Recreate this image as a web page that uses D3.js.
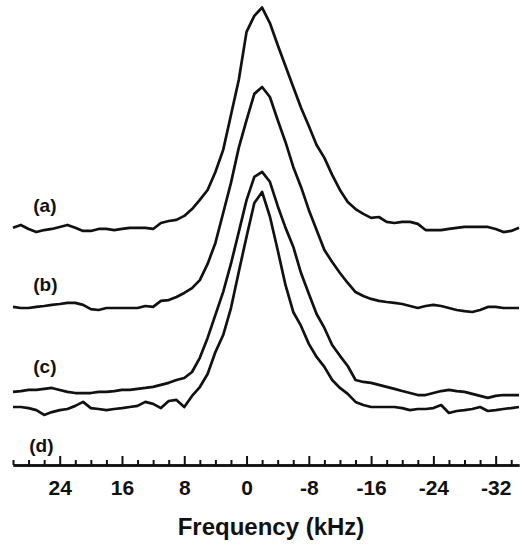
<!DOCTYPE html>
<html>
<head>
<meta charset="utf-8">
<script src="https://cdn.jsdelivr.net/npm/d3@7"></script>
<style>
  body { margin: 0; background: #fff; }
  svg { display: block; }
  text { font-family: "Liberation Sans", Arial, sans-serif; font-weight: bold; fill: #111; }
</style>
</head>
<body>
<div id="graph1"></div>
<script>
// frequency grid (kHz), 1 kHz steps
const freq = [30, 29, 28, 27, 26, 25, 24, 23, 22, 21, 20,
              19, 18, 17, 16, 15, 14, 13, 12, 11, 10, 9,
              8, 7, 6, 5, 4, 3, 2, 1, 0, -1, -2,
              -3, -4, -5, -6, -7, -8, -9, -10, -11, -12, -13,
              -14, -15, -16, -17, -18, -19, -20, -21, -22, -23, -24,
              -25, -26, -27, -28, -29, -30, -31, -32, -33, -34, -35];

// normalised intensity (peak = 100) for each spectrum
const specA = [0.5, 1.8, 0, -1.4, -0.5, 0, 0.9, 1.8, 0.5, -0.9, -0.9,
               0, 0, -0.5, 0, 0.5, 0.5, 0.5, 0, 2.7, 3.6, 4.1,
               5.9, 9.0, 13.1, 17.6, 25.7, 35.7, 51.5, 67.3, 89.0, 96.2, 100,
               93.0, 83.1, 73.6, 64.1, 54.7, 46.5, 37.9, 32.1, 24.4, 17.6, 12.2,
               9.0, 6.8, 5.0, 5.4, 3.2, 2.7, 3.2, 3.2, 2.3, -0.5, -0.5,
               -0.5, 0, 0.5, 0.9, 0.9, 0.9, 0.9, 0, -1.4, -0.9, 0.5];
const specB = [0.5, 0, 0, 0.5, 0.9, 1.4, 1.8, 2.3, 2.3, 1.4, -0.5,
               -0.9, 0, 0, 0, 0, 0, 0.9, 0.5, 3.2, 3.6, 5.0,
               6.8, 9.0, 12.6, 19.9, 29.4, 42.9, 56.5, 72.3, 84.9, 96.7, 99.8,
               95.3, 84.9, 75.0, 63.7, 54.7, 44.3, 35.2, 26.2, 20.8, 15.8, 11.3,
               7.2, 5.4, 4.1, 3.2, 2.7, 2.3, 1.8, 0.9, 0, 0.9, 1.4,
               0.9, 0, -0.9, -1.4, -1.8, -0.9, 0.5, 0.5, 0, 0, 0];
const specC = [-0.9, -0.5, 0, 0, 0.5, 0.9, 0, -0.9, -1.4, -1.4, -1.4,
               -0.9, -0.9, -0.5, 0, 0, 0.5, 0.9, 1.4, 2.3, 3.2, 4.5,
               5.4, 8.1, 14.5, 23.5, 33.9, 44.3, 57.0, 71.3, 85.7, 96.2, 98.5,
               94.0, 83.1, 73.3, 64.7, 52.8, 43.4, 34.3, 28.0, 20.3, 15.4, 10.8,
               4.5, 3.6, 3.2, 2.3, 1.4, 0.5, -0.5, -1.4, -2.3, -2.3, -1.4,
               -0.5, 0, -0.5, -0.9, -1.8, -2.7, -3.6, -2.7, -2.3, -2.3, -2.3];
const specD = [0, 0, -0.5, -1.4, -3.6, -2.3, -1.4, -0.9, 0.5, 2.3, -0.5,
               -0.9, -1.4, -0.9, -0.5, 0, 0.5, 2.3, 1.4, -0.5, 2.7, 3.2,
               0, 5.0, 9.0, 14.9, 24.8, 32.5, 44.7, 61.0, 76.9, 92.1, 97.1,
               86.0, 70.9, 55.1, 42.9, 36.6, 28.5, 22.6, 18.1, 12.2, 8.6, 5.9,
               2.3, 0.9, 0, 0, 0, 0, -0.5, -1.4, -0.9, -0.9, -0.5,
               0.9, -2.7, -1.8, -1.4, -0.9, 0, -1.8, -1.4, -0.9, -0.5, 0];

const names = ["(a)", "(b)", "(c)", "(d)"];
const offsets = [106.6, 70.9, 33.9, 26.2];   // vertical stacking of the traces
const majorTicks = [24, 16, 8, 0, -8, -16, -24, -32];
const minorTicks = [30, 28, 26, 22, 20, 18, 14, 12, 10, 6, 4, 2,
                    -2, -4, -6, -10, -12, -14, -18, -20, -22, -26, -28, -30, -34];

const width = 520, height = 546;
const axisY = 465;

let svg = d3.select("#graph1")
    .append("svg")
    .attr("width", width)
    .attr("height", height);

// x scale: frequency runs right to left
let x = d3.scaleLinear()
    .domain([30, -35])
    .range([13, 519]);

// y scale in intensity units (stacked)
let y = d3.scaleLinear()
    .domain([0, 210])
    .range([axisY, 0]);

const series = [specA, specB, specC, specD];

let line = d3.line()
    .x(d => x(d.f))
    .y(d => y(d.v));

series.forEach((s, i) => {
    let pts = freq.map((f, j) => ({f: f, v: s[j] + offsets[i]}));
    svg.append("path")
        .datum(pts)
        .attr("fill", "none")
        .attr("stroke", "#111")
        .attr("stroke-width", 2.7)
        .attr("stroke-linejoin", "round")
        .attr("d", line);
});

// trace labels
svg.selectAll("text.trace")
    .data(names)
    .enter()
    .append("text")
    .attr("class", "trace")
    .attr("x", (d, i) => x(27.4) - (i == 3 ? 4 : 0))
    .attr("y", (d, i) => i == 3 ? y(offsets[i]) + 45 : y(offsets[i]) - 17)
    .style("font-size", "19px")
    .text(d => d);

// minor ticks
let minorAxis = svg.append("g")
    .attr("transform", `translate(0, ${axisY})`)
    .call(d3.axisBottom(x).tickValues(minorTicks).tickSize(-5).tickSizeOuter(0).tickFormat(""));

// major ticks + labels
let xAxis = svg.append("g")
    .attr("transform", `translate(0, ${axisY})`)
    .call(d3.axisBottom(x)
        .tickValues(majorTicks)
        .tickSize(-9)
        .tickSizeOuter(0)
        .tickPadding(15)
        .tickFormat(d => String(d)));

svg.selectAll(".domain")
    .attr("stroke", "#111")
    .attr("stroke-width", 2.6);
svg.selectAll(".tick line")
    .attr("stroke", "#111")
    .attr("stroke-width", 2);
xAxis.selectAll("text")
    .style("font-size", "21px")
    .attr("fill", "#111");

// x axis label
svg.append("text")
    .attr("transform", `translate(${271}, ${535})`)
    .style("text-anchor", "middle")
    .style("font-size", "24px")
    .text("Frequency (kHz)");
</script>
</body>
</html>
